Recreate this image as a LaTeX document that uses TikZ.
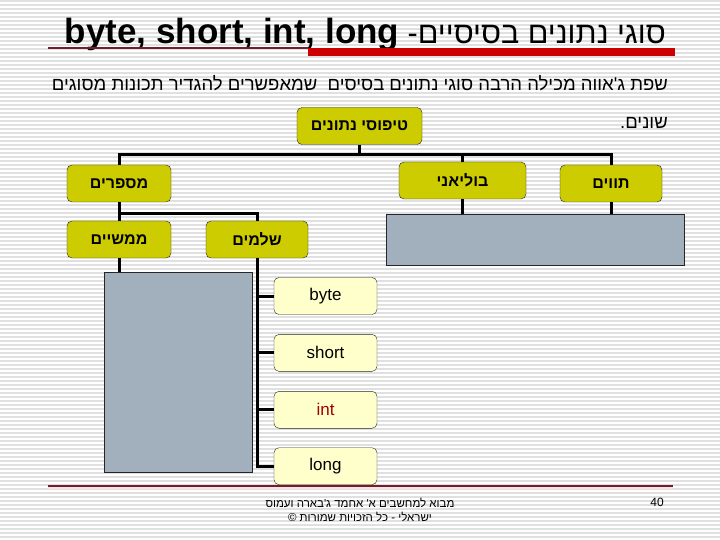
\documentclass[tikz,border=0pt]{standalone}
\usepackage{fontspec}
\setmainfont{Liberation Sans}
\newfontfamily\hebfont[Script=Hebrew]{Liberation Sans}
\usetikzlibrary{positioning, calc}
\TeXXeTstate=1
\definecolor{dtstripe}{RGB}{224,224,224}
\definecolor{dtred}{RGB}{204,0,0}
\definecolor{dtmaroon}{RGB}{110,30,45}
\definecolor{dtyellow}{RGB}{204,204,0}
\definecolor{dtcream}{RGB}{255,255,204}
\definecolor{dtslate}{RGB}{162,176,190}
\definecolor{dtint}{RGB}{160,0,0}
\newcommand{\heb}[1]{{\hebfont\beginR #1\endR}}

\begin{document}
\begin{tikzpicture}[x=1pt, y=-1pt,
    catbox/.style={rectangle, draw=black!85, rounded corners=5pt, fill=dtyellow,
        minimum height=37pt, inner sep=0pt, text centered,
        font=\bfseries\fontsize{16}{18}\selectfont},
    leafbox/.style={rectangle, draw=black!85, rounded corners=5pt, fill=dtcream,
        minimum width=103pt, minimum height=37pt, inner sep=0pt, text centered,
        font=\fontsize{17}{19}\selectfont},
    holdbox/.style={rectangle, draw=black!85, fill=dtslate, inner sep=0pt},
    link/.style={line width=3pt}
]
\useasboundingbox (0,0) rectangle (720,540);
\fill[white] (0,0) rectangle (720,540);
\foreach \sy in {1,5,...,537}
    \draw[dtstripe, line width=1.4pt] (0,\sy) -- (720,\sy);

% title and underline
\node[anchor=base east, inner sep=0pt] (title) at (666,44)
    {\hebfont\fontsize{30.5}{36}\selectfont\beginR סוגי נתונים בסיסיים- \beginL{\fontsize{35}{40}\selectfont\bfseries byte, short, int, long}\endL\endR};
\draw[dtmaroon, line width=1.2pt] (48,48) -- (308,48);
\fill[dtred] (308,48) rectangle (675,56.5);

\node[anchor=north east, inner sep=0pt, align=right,
      font=\hebfont\fontsize{18.5}{38}\selectfont] (intro) at (668,75)
    {\beginR שפת ג'אווה מכילה הרבה סוגי נתונים בסיסים\ \ שמאפשרים להגדיר תכונות מסוגים\endR\\
     \beginR שונים.\endR};

% the tree
\node[catbox, minimum width=125pt] (types)   at (359.5,126)   {\heb{טיפוסי נתונים}};
\node[catbox, minimum width=104pt] (numbers) at (119,183.5)   {\heb{מספרים}};
\node[catbox, minimum width=127pt] (bool)    at (462.5,180.5) {\heb{בוליאני}};
\node[catbox, minimum width=102pt] (chars)   at (611,183.5)   {\heb{תווים}};
\node[catbox, minimum width=104pt] (reals)   at (119,239.5)   {\heb{ממשיים}};
\node[catbox, minimum width=102pt] (ints)    at (257,239.5)   {\heb{שלמים}};

\node[holdbox, minimum width=148pt, minimum height=200pt] (realsph) at (178,372)   {};
\node[holdbox, minimum width=298pt, minimum height=51pt]  (boolph)  at (535,239.5) {};

\node[leafbox] (byte) at (325.5,296)       {byte};
\node[leafbox, below=19.5pt of byte]  (short) {short};
\node[leafbox, below=19.5pt of short] (int)   {\textcolor{dtint}{int}};
\node[leafbox, below=19pt of int]     (long)  {long};

\coordinate (bus) at ($(types.south)+(0,10)$);
\draw[link] (types.south) -- (bus);
\draw[link] (numbers.north) -- (numbers.north |- bus) -- (chars.north |- bus) -- (chars.north);
\draw[link] (bool.north) -- (bool.north |- bus);
\draw[link] (numbers.south) -- (reals.north);
\draw[link] (numbers.south) -- ++(0,11) -| (ints.north);
\draw[link] (reals.south) -- (reals.south |- realsph.north);
\draw[link] (bool.south) -- (bool.south |- boolph.north);
\draw[link] (chars.south) -- (chars.south |- boolph.north);
\draw[link] (ints.south) |- (long.west);
\foreach \leaf in {byte,short,int}
    \draw[link] (ints.south |- \leaf.west) -- (\leaf.west);

% footer
\draw[dtmaroon, line width=1.3pt] (48,486) -- (673,486);
\draw[red!12, line width=1.5pt] (48,488) -- (673,488);
\node[align=center, inner sep=0pt, font=\hebfont\fontsize{11.5}{14}\selectfont] (credit) at (360,510)
    {\beginR מבוא למחשבים א' אחמד ג'בארה ועמוס\endR\\
     \beginR ישראלי - כל הזכויות שמורות ©\endR};
\node[inner sep=0pt, font=\fontsize{12}{14}\selectfont] (page) at (657,502) {40};
\end{tikzpicture}
\end{document}
